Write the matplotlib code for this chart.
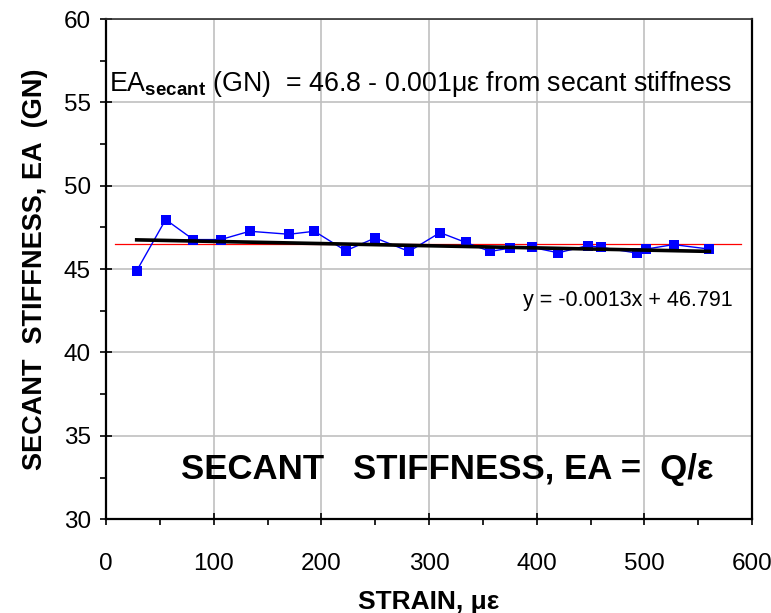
import numpy as np
import matplotlib
matplotlib.use("Agg")
import matplotlib.pyplot as plt
from matplotlib.ticker import MultipleLocator

plt.rcParams['font.family'] = ['Liberation Sans', 'DejaVu Sans']
plt.rcParams['mathtext.fontset'] = 'custom'
plt.rcParams['mathtext.rm'] = 'Liberation Sans'
plt.rcParams['mathtext.bf'] = 'Liberation Sans:bold'

# secant stiffness data
strain = [28.5, 55.4, 81.1, 106.5, 133.4, 170, 193.5, 222.6, 250, 281.4, 310.2,
          334, 356.7, 375.2, 396, 420, 447.4, 460, 493.4, 501.5, 527, 560.3]
stiffness = [44.9, 47.97, 46.77, 46.77, 47.27, 47.09, 47.27, 46.1, 46.87, 46.06, 47.19,
             46.6, 46.06, 46.26, 46.3, 45.98, 46.41, 46.3, 45.96, 46.2, 46.47, 46.2]

# linear trend (as printed on chart)
slope = -0.0013
intercept = 46.791

# red reference line
ref_y = 46.5
ref_x = [8, 590]

fig = plt.figure(figsize=(7.71, 6.13), dpi=100)
ax = fig.add_axes([0.1375, 0.153, 0.838, 0.816])

ax.plot(strain, stiffness, color='#0000ff', lw=1.0, marker='s', ms=6.5,
        markeredgewidth=0, zorder=4)
ax.plot(ref_x, [ref_y, ref_y], color='red', lw=0.9, zorder=3)
xs = np.array([min(strain), max(strain)])
ax.plot(xs, slope * xs + intercept, color='black', lw=2.6, zorder=5)

ax.set_xlim(0, 600)
ax.set_ylim(30, 60)
ax.xaxis.set_major_locator(MultipleLocator(100))
ax.xaxis.set_minor_locator(MultipleLocator(50))
ax.yaxis.set_major_locator(MultipleLocator(5))
ax.yaxis.set_minor_locator(MultipleLocator(2.5))
ax.tick_params(which='major', direction='inout', length=8, width=1.2,
               labelsize=17.5, color='black')
ax.tick_params(axis='x', which='major', pad=20)
ax.tick_params(axis='y', which='major', pad=7)
ax.tick_params(which='minor', direction='out', length=4, width=1.2)
ax.grid(True, which='major', color='#c0c0c0', lw=1.2)
ax.set_axisbelow(True)
for side in ['left', 'bottom', 'right']:
    ax.spines[side].set_linewidth(1.6)
ax.spines['top'].set_linewidth(1.2)
ax.spines['top'].set_color('#303030')

ax.set_xlabel('STRAIN, με', fontsize=19, fontweight='bold', labelpad=11)
ax.set_ylabel('SECANT  STIFFNESS, EA  (GN)', fontsize=19.5, fontweight='bold', labelpad=11)

ax.text(3, 56.1, r'EA$_{\bf secant}$ (GN)  = 46.8 - 0.001με from secant stiffness',
        fontsize=19.3, va='center', ha='left')
ax.text(582, 43.1, 'y = -0.0013x + 46.791', fontsize=15.5, ha='right', va='center')
ax.text(317, 33.0, 'SECANT   STIFFNESS, EA =  Q/ε', fontsize=25, fontweight='bold',
        ha='center', va='center')

fig.savefig('out.png', dpi=100)
